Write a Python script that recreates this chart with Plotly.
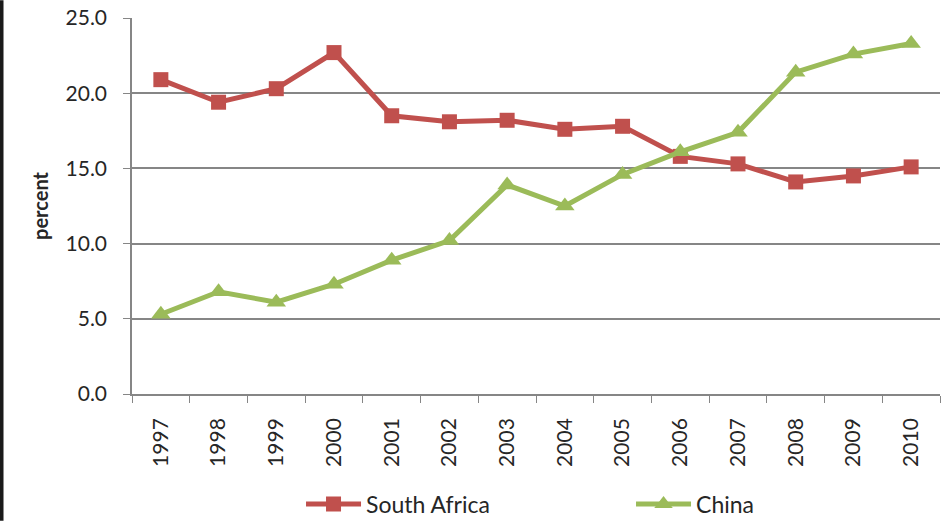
import plotly.graph_objects as go

years = ["1997", "1998", "1999", "2000", "2001", "2002", "2003", "2004",
         "2005", "2006", "2007", "2008", "2009", "2010"]
south_africa = [20.9, 19.4, 20.3, 22.7, 18.5, 18.1, 18.2, 17.6, 17.8, 15.8, 15.3, 14.1, 14.5, 15.1]
china = [5.3, 6.8, 6.1, 7.3, 8.9, 10.2, 13.9, 12.5, 14.6, 16.1, 17.4, 21.4, 22.6, 23.3]
y_ticks = [0, 5, 10, 15, 20, 25]

font_family = "Lato, 'Open Sans', sans-serif"
text_color = "#262626"

fig = go.Figure()
fig.add_trace(go.Scatter(
    x=years, y=south_africa, name="South Africa", mode="lines+markers",
    line=dict(color="#C0504D", width=5),
    marker=dict(symbol="square", size=15, color="#C0504D"),
))
fig.add_trace(go.Scatter(
    x=years, y=china, name="China", mode="lines+markers",
    line=dict(color="#9BBB59", width=5),
    marker=dict(symbol="triangle-up", size=17, color="#9BBB59"),
))

fig.update_layout(
    width=941, height=521,
    margin=dict(l=132, r=1, t=18, b=127, autoexpand=False),
    paper_bgcolor="white", plot_bgcolor="white",
    font=dict(family=font_family, color=text_color, size=21),
    showlegend=True,
    legend=dict(orientation="h", x=0.6176, xanchor="center", y=-0.293, yanchor="middle",
                entrywidth=260, font=dict(size=23, color=text_color),
                itemwidth=55, tracegroupgap=0),
    xaxis=dict(
        type="category", range=[-0.5, len(years) - 0.5],
        tickangle=-90, tickson="boundaries",
        showline=True, linecolor="#868686", linewidth=1.5,
        ticks="outside", ticklen=7, tickcolor="#868686",
        showgrid=False, zeroline=False, automargin=False,
        ticklabelstandoff=14,
        tickfont=dict(size=21, color=text_color),
    ),
    yaxis=dict(
        range=[0, 25], tickvals=y_ticks, tickformat=".1f",
        showline=True, linecolor="#868686", linewidth=1.5,
        ticks="outside", ticklen=7, tickcolor="#868686",
        showgrid=True, gridcolor="#868686", gridwidth=1.5,
        zeroline=False, automargin=False,
        ticklabelstandoff=12,
        title=dict(text="<b>percent</b>", font=dict(size=20, color=text_color), standoff=12),
        tickfont=dict(size=21, color=text_color),
    ),
    shapes=[dict(type="line", xref="paper", yref="paper",
                 x0=-0.1615, x1=-0.1615, y0=-0.337, y1=1.047,
                 line=dict(color="#1a1a1a", width=4))],
)

fig.write_html("out.html", config={"displayModeBar": False},
               post_script="document.body.style.margin='0';document.body.style.overflow='hidden';")
